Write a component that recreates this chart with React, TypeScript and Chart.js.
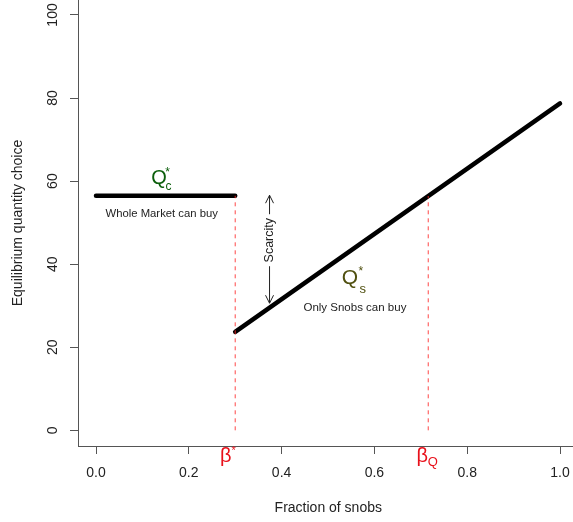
import React, { useEffect, useRef } from "react";
import { Chart, registerables } from "chart.js";
Chart.register(...registerables);

// ---- data ----
const xTicks = [0, 0.2, 0.4, 0.6, 0.8, 1.0];
const yTicks = [0, 20, 40, 60, 80, 100];
const commonFraction = [0, 0.3];
const commonQuantity = [56.5, 56.5];
const snobFraction = [0.3, 1.0];
const snobQuantity = [23.7, 78.7];
const betaStar = 0.3;
const betaQ = 0.716;
const betaStarTop = 56.5;
const betaQTop = 56.4;
const scarcityX = 0.374;
const scarcityRange = [30.6, 56.6];

const FONT = "'Liberation Sans', Arial, sans-serif";

const pts = (xs: number[], ys: number[]) => xs.map((x, i) => ({ x, y: ys[i] }));

const annotations = {
  id: "annotations",
  afterDraw(chart: any) {
    const ctx = chart.ctx as CanvasRenderingContext2D;
    const xs = chart.scales.x;
    const ys = chart.scales.y;
    const area = chart.chartArea;
    ctx.save();
    ctx.textAlign = "center";
    ctx.textBaseline = "middle";

    // tick labels
    ctx.fillStyle = "#222";
    ctx.font = `14px ${FONT}`;
    xTicks.forEach((v) => {
      ctx.fillText(v.toFixed(1), xs.getPixelForValue(v), area.bottom + 27);
    });
    yTicks.forEach((v) => {
      ctx.save();
      ctx.translate(area.left - 25, ys.getPixelForValue(v));
      ctx.rotate(-Math.PI / 2);
      ctx.fillText(String(v), 0, 0);
      ctx.restore();
    });
    // axis titles
    ctx.fillText("Fraction of snobs", (area.left + xs.getPixelForValue(1.04)) / 2, area.bottom + 62);
    ctx.save();
    ctx.translate(18, (area.top + area.bottom) / 2);
    ctx.rotate(-Math.PI / 2);
    ctx.fillText("Equilibrium quantity choice", 0, 0);
    ctx.restore();

    // Q*c
    let qx = xs.getPixelForValue(0.136);
    let qy = ys.getPixelForValue(60.6);
    ctx.fillStyle = "#0b5e0b";
    ctx.font = `20px ${FONT}`;
    ctx.fillText("Q", qx, qy);
    ctx.font = `12px ${FONT}`;
    ctx.fillText("c", qx + 9.5, qy + 8);
    ctx.font = `12px ${FONT}`;
    ctx.fillText("*", qx + 8.5, qy - 5.5);

    ctx.fillStyle = "#222";
    ctx.font = `11.3px ${FONT}`;
    ctx.fillText("Whole Market can buy", xs.getPixelForValue(0.1416), ys.getPixelForValue(52.2));

    // Q*s
    qx = xs.getPixelForValue(0.547);
    qy = ys.getPixelForValue(36.6);
    ctx.fillStyle = "#505010";
    ctx.font = `21px ${FONT}`;
    ctx.fillText("Q", qx, qy);
    ctx.font = `13px ${FONT}`;
    ctx.fillText("s", qx + 13, qy + 11);
    ctx.font = `12px ${FONT}`;
    ctx.fillText("*", qx + 11, qy - 7);

    ctx.fillStyle = "#222";
    ctx.font = `11.5px ${FONT}`;
    ctx.fillText("Only Snobs can buy", xs.getPixelForValue(0.558), ys.getPixelForValue(29.4));

    // scarcity arrow
    const ax = xs.getPixelForValue(scarcityX);
    const y0 = ys.getPixelForValue(scarcityRange[0]);
    const y1 = ys.getPixelForValue(scarcityRange[1]);
    ctx.strokeStyle = "#222";
    ctx.lineWidth = 1;
    ctx.beginPath();
    ctx.moveTo(ax, y0);
    ctx.lineTo(ax, y1);
    ctx.moveTo(ax - 4, y1 + 8);
    ctx.lineTo(ax, y1);
    ctx.lineTo(ax + 4, y1 + 8);
    ctx.moveTo(ax - 4, y0 - 8);
    ctx.lineTo(ax, y0);
    ctx.lineTo(ax + 4, y0 - 8);
    ctx.stroke();
    const ty = (y0 + y1) / 2 - 9;
    ctx.fillStyle = "#fff";
    ctx.fillRect(ax - 7, ty - 26, 14, 52);
    ctx.save();
    ctx.translate(ax, ty);
    ctx.rotate(-Math.PI / 2);
    ctx.fillStyle = "#222";
    ctx.font = `12.5px ${FONT}`;
    ctx.fillText("Scarcity", 0, 0);
    ctx.restore();

    // beta labels
    ctx.fillStyle = "#e8101a";
    ctx.font = `20px ${FONT}`;
    const bx = xs.getPixelForValue(betaStar) - 9.5;
    ctx.fillText("β", bx, area.bottom + 10);
    ctx.font = `11px ${FONT}`;
    ctx.fillText("*", bx + 8, area.bottom + 5);
    const bq = xs.getPixelForValue(betaQ) - 6;
    ctx.font = `20px ${FONT}`;
    ctx.fillText("β", bq, area.bottom + 10);
    ctx.font = `13px ${FONT}`;
    ctx.fillText("Q", bq + 10.5, area.bottom + 16);

    ctx.restore();
  },
};

export default function App() {
  const ref = useRef<HTMLCanvasElement | null>(null);
  useEffect(() => {
    if (!ref.current) return;
    const chart = new Chart(ref.current, {
      type: "line",
      data: {
        datasets: [
          {
            data: pts([betaStar, betaStar], [0, betaStarTop]),
            borderColor: "rgba(255,40,40,0.85)",
            borderWidth: 1,
            borderDash: [4, 4],
            pointRadius: 0,
          },
          {
            data: pts([betaQ, betaQ], [0, betaQTop]),
            borderColor: "rgba(255,40,40,0.85)",
            borderWidth: 1,
            borderDash: [4, 4],
            pointRadius: 0,
          },
          {
            data: pts(commonFraction, commonQuantity),
            borderColor: "#000",
            borderWidth: 4.5,
            borderCapStyle: "round",
            pointRadius: 0,
          },
          {
            data: pts(snobFraction, snobQuantity),
            borderColor: "#000",
            borderWidth: 4.5,
            borderCapStyle: "round",
            pointRadius: 0,
          },
        ],
      },
      options: {
        responsive: false,
        animation: false,
        events: [],
        layout: { padding: { left: 70, right: 0, top: 0, bottom: 68 } },
        plugins: { legend: { display: false }, tooltip: { enabled: false } },
        scales: {
          x: {
            type: "linear",
            min: -0.0388,
            max: 1.028,
            afterBuildTicks: (s: any) => {
              s.ticks = xTicks.map((v) => ({ value: v }));
            },
            ticks: { display: false },
            grid: { drawOnChartArea: false, drawTicks: true, tickLength: 8, color: "#555" },
            border: { display: true, color: "#555", width: 1 },
          },
          y: {
            type: "linear",
            min: -3.78,
            max: 103.6,
            afterBuildTicks: (s: any) => {
              s.ticks = yTicks.map((v) => ({ value: v }));
            },
            ticks: { display: false },
            grid: { drawOnChartArea: false, drawTicks: true, tickLength: 8, color: "#555" },
            border: { display: true, color: "#555", width: 1 },
          },
        },
      },
      plugins: [annotations],
    });
    return () => chart.destroy();
  }, []);
  return (
    <div style={{ position: "fixed", left: 0, top: 0, width: 573, height: 522, background: "#fff" }}>
      <canvas ref={ref} width={573} height={522} style={{ display: "block" }} />
    </div>
  );
}
